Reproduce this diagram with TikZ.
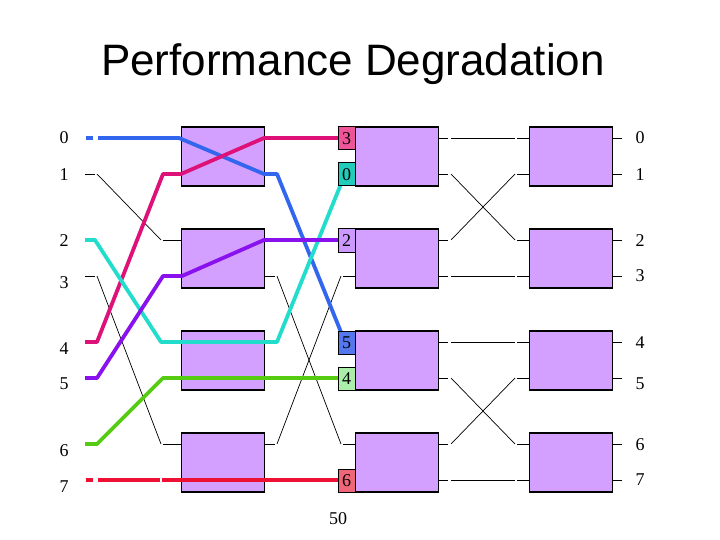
\documentclass[tikz,border=0pt]{standalone}
\usepackage{fontspec}
\setmainfont{Liberation Serif}
\newfontfamily\titlefont{Liberation Sans}
\definecolor{boxfill}{HTML}{D4A0FF}
\definecolor{cblue}{HTML}{3366EE}
\definecolor{cmag}{HTML}{DD1177}
\definecolor{ccyan}{HTML}{22DDCC}
\definecolor{cpurp}{HTML}{8811EE}
\definecolor{cgreen}{HTML}{55CC11}
\definecolor{cred}{HTML}{EE1133}
\definecolor{tpink}{HTML}{EE5599}
\definecolor{tteal}{HTML}{22CCBB}
\definecolor{tlav}{HTML}{CC99FF}
\definecolor{tblue}{HTML}{5577EE}
\definecolor{tgreen}{HTML}{AAEEAA}
\definecolor{tred}{HTML}{EE6677}
\begin{document}
\begin{tikzpicture}[x=1pt,y=-1pt,
  swbox/.style={draw=black, line width=1.2pt, fill=boxfill, minimum width=83pt, minimum height=59pt, inner sep=0pt},
  wire/.style={line width=0.7pt, black},
  cwire/.style={line width=3.8pt, line join=round},
  num/.style={font=\fontsize{18}{18}\selectfont, inner sep=0pt},
  tagbox/.style={draw=black, line width=1pt, minimum width=17pt, minimum height=23pt, inner sep=0pt, font=\fontsize{18}{18}\selectfont}]
\useasboundingbox (0,0) rectangle (720,540);
\fill[white] (0,0) rectangle (720,540);

% title
\node[font=\titlefont\fontsize{44}{44}\selectfont, inner sep=0pt] (title) at (353,64) {Performance Degradation};

% row y values
\def\ys{0/138,1/174,2/240,3/276,4/342,5/378,6/444,7/480}

% named coordinates: left stub start/end, right ports
\foreach \i/\y in \ys {
  \coordinate (s\i) at (85,\y);
  \coordinate (e\i) at (95,\y);
  \coordinate (o\i) at (613,\y);
  \coordinate (p\i) at (622,\y);
}

% boxes
\foreach \r/\y in {0/156.5,1/258.5,2/360.5,3/462.5} {
  \node[swbox] (A\r) at (223,\y) {};
  \node[swbox] (B\r) at (397,\y) {};
  \node[swbox] (C\r) at (571,\y) {};
}

% stage 1 thin wires
\draw[wire] (s1) -- (e1);
\draw[wire] (97,174) -- (161,240);
\draw[wire] (163,240) -- (A1.west |- 0,240);
\draw[wire] (s3) -- (e3);
\draw[wire] (97,276) -- (161,444);
\draw[wire] (163,444) -- (A3.west |- 0,444);

% stage 2 thin wires
\draw[wire] (A1.east |- 0,276) -- (275,276);
\draw[wire] (277,276) -- (341,444);
\draw[wire] (343,444) -- (B3.west |- 0,444);
\draw[wire] (A3.east |- 0,444) -- (275,444);
\draw[wire] (277,444) -- (341,276);
\draw[wire] (343,276) -- (B1.west |- 0,276);

% stage 3 thin wires
\foreach \ya/\yb in {138/138,174/240,240/174,276/276,342/342,378/444,444/378,480/480} {
  \draw[wire] (B0.east |- 0,\ya) -- (448,\ya);
  \draw[wire] (451,\ya) -- (515,\yb);
  \draw[wire] (517,\yb) -- (C0.west |- 0,\yb);
}

% output stubs
\foreach \i in {0,...,7} { \draw[wire] (o\i) -- (p\i); }

% coloured paths
\draw[cwire, cblue] (86,138) -- (93,138);
\draw[cwire, cblue] (98,138) -- (179,138) -- (264,174) -- (277,174) -- (345,342);
\draw[cwire, cmag] (s4) -- (97,342) -- (163,174) -- (181,174) -- (264,138) -- (340,138);
\draw[cwire, ccyan] (s2) -- (e2) -- (161,342) -- (277,342) -- (345,174);
\draw[cwire, cpurp] (s5) -- (97,378) -- (163,276) -- (182,276) -- (264,240) -- (340,240);
\draw[cwire, cgreen] (s6) -- (97,444) -- (163,378) -- (340,378);
\draw[cwire, cred] (86,480) -- (93,480);
\draw[cwire, cred] (98,480) -- (160,480);
\draw[cwire, cred] (162,480) -- (340,480);

% tags
\node[tagbox, fill=tpink]  (t3) at (346.5,138.5) {3};
\node[tagbox, fill=tteal]  (t0) at (346.5,174.5) {0};
\node[tagbox, fill=tlav]   (t2) at (346.5,240.5) {2};
\node[tagbox, fill=tblue]  (t5) at (346.5,342.5) {5};
\node[tagbox, fill=tgreen] (t4) at (346.5,378.5) {4};
\node[tagbox, fill=tred]   (t6) at (346.5,480.5) {6};

% left labels
\foreach \i/\y in {0/138,1/175,2/241,3/283,4/349,5/384,6/451,7/487} {
  \node[num] (l\i) at (64,\y) {\i};
}
% right labels
\foreach \i/\y in {0/138,1/175,2/241,3/276,4/343,5/384,6/445,7/480} {
  \node[num] (r\i) at (640,\y) {\i};
}

\node[num] (n50) at (338,519) {50};
\end{tikzpicture}
\end{document}
